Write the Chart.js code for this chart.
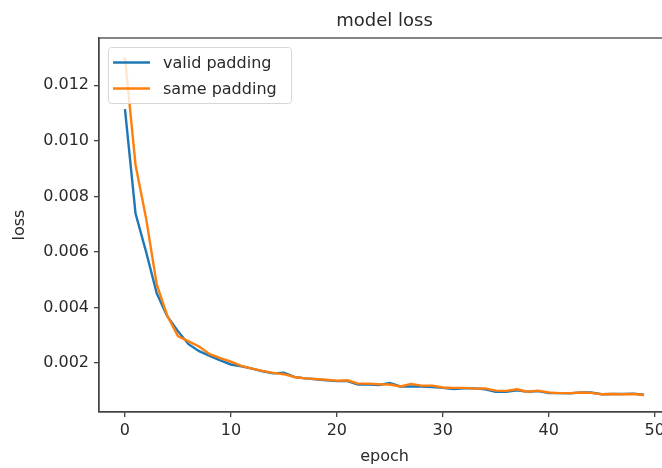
<!DOCTYPE html>
<html>
<head>
<meta charset="utf-8">
<script src="https://cdn.jsdelivr.net/npm/chart.js@4"></script>
<style>
  html, body { margin: 0; padding: 0; background: #fff; overflow: hidden; width: 662px; height: 468px; }
  canvas { display: block; }
</style>
</head>
<body>
<canvas id="loss-chart" width="680" height="468"></canvas>
<script>
var epochs = [];
for (var i = 0; i < 50; i++) { epochs.push(i); }

var validLoss = [0.01114, 0.00738, 0.00600, 0.00451, 0.00368, 0.00315, 0.00268, 0.00243, 0.00226, 0.00210,
                 0.00195, 0.00188, 0.00180, 0.00170, 0.00163, 0.00165, 0.00150, 0.00145, 0.00142, 0.00138,
                 0.00135, 0.00135, 0.00123, 0.00123, 0.00121, 0.00128, 0.00116, 0.00116, 0.00116, 0.00114,
                 0.00111, 0.00107, 0.00109, 0.00109, 0.00106, 0.00097, 0.00097, 0.00102, 0.00097, 0.00099,
                 0.00092, 0.00092, 0.00091, 0.00094, 0.00094, 0.00088, 0.00089, 0.00089, 0.00090, 0.00086];

var sameLoss = [0.01300, 0.00913, 0.00720, 0.00483, 0.00370, 0.00297, 0.00278, 0.00260, 0.00232, 0.00218,
                0.00205, 0.00190, 0.00180, 0.00172, 0.00165, 0.00160, 0.00150, 0.00145, 0.00143, 0.00140,
                0.00137, 0.00138, 0.00126, 0.00126, 0.00124, 0.00123, 0.00116, 0.00125, 0.00119, 0.00119,
                0.00112, 0.00111, 0.00111, 0.00108, 0.00109, 0.00101, 0.00100, 0.00106, 0.00097, 0.00101,
                0.00094, 0.00092, 0.00092, 0.00094, 0.00093, 0.00088, 0.00089, 0.00088, 0.00089, 0.00085];

var xTicks = [0, 10, 20, 30, 40, 50];
var yTicks = [0.002, 0.004, 0.006, 0.008, 0.010, 0.012];

var FONT = 'DejaVu Sans';
var TEXT = '#2a2a2a';
var AXIS = '#444444';

function points(ys) {
  return epochs.map(function(x, i) { return { x: x, y: ys[i] }; });
}

// frame, title, axis labels and legend drawn matplotlib style
var decorations = {
  id: 'decorations',
  afterDatasetsDraw: function(chart) {
    var ctx = chart.ctx;
    var a = chart.chartArea;
    ctx.save();
    ctx.strokeStyle = AXIS;
    ctx.lineWidth = 1.3;
    ctx.strokeRect(a.left, a.top, a.right - a.left, a.bottom - a.top);

    // legend
    ctx.fillStyle = 'rgba(255,255,255,0.8)';
    ctx.strokeStyle = '#d6d6d6';
    ctx.lineWidth = 1;
    ctx.beginPath();
    ctx.roundRect(108.5, 47.5, 183, 56, 3);
    ctx.fill();
    ctx.stroke();
    var items = [['valid padding', '#1f77b4', 62.5], ['same padding', '#ff7f0e', 88.5]];
    ctx.font = '16px "' + FONT + '"';
    ctx.textBaseline = 'middle';
    ctx.textAlign = 'left';
    items.forEach(function(it) {
      ctx.strokeStyle = it[1];
      ctx.lineWidth = 2.4;
      ctx.beginPath();
      ctx.moveTo(113, it[2]);
      ctx.lineTo(150, it[2]);
      ctx.stroke();
      ctx.fillStyle = TEXT;
      ctx.fillText(it[0], 163, it[2] + 1);
    });

    // titles
    ctx.fillStyle = TEXT;
    ctx.textAlign = 'center';
    ctx.font = '18px "' + FONT + '"';
    ctx.fillText('model loss', (a.left + a.right) / 2, 21);
    ctx.font = '16px "' + FONT + '"';
    ctx.fillText('epoch', (a.left + a.right) / 2, 457);
    ctx.translate(20, (a.top + a.bottom) / 2);
    ctx.rotate(-Math.PI / 2);
    ctx.fillText('loss', 0, 0);
    ctx.restore();
  }
};

var ctx = document.getElementById('loss-chart');
var chart = new Chart(ctx, {
  type: 'line',
  data: {
    datasets: [
      {
        label: 'valid padding',
        data: points(validLoss),
        borderColor: '#1f77b4',
        borderWidth: 2.4,
        pointRadius: 0,
        tension: 0,
        order: 1
      },
      {
        label: 'same padding',
        data: points(sameLoss),
        borderColor: '#ff7f0e',
        borderWidth: 2.4,
        pointRadius: 0,
        tension: 0,
        order: 0
      }
    ]
  },
  options: {
    responsive: false,
    animation: false,
    layout: { padding: { top: 38, left: 0, right: 10, bottom: 0 } },
    plugins: {
      legend: { display: false },
      tooltip: { enabled: false }
    },
    scales: {
      x: {
        type: 'linear',
        min: -2.45,
        max: 51.45,
        afterBuildTicks: function(scale) {
          scale.ticks = xTicks.map(function(v) { return { value: v }; });
        },
        afterFit: function(scale) { scale.height = 56; },
        grid: { drawOnChartArea: false, color: AXIS, tickLength: 5, lineWidth: 1.3 },
        border: { display: true, color: AXIS, width: 1.3 },
        ticks: {
          color: TEXT,
          font: { family: FONT, size: 16 },
          padding: 4,
          maxRotation: 0,
          callback: function(v) { return String(v); }
        }
      },
      y: {
        type: 'linear',
        min: 0.00024,
        max: 0.0137,
        afterBuildTicks: function(scale) {
          scale.ticks = yTicks.map(function(v) { return { value: v }; });
        },
        afterFit: function(scale) { scale.width = 99; },
        grid: { drawOnChartArea: false, color: AXIS, tickLength: 5, lineWidth: 1.3 },
        border: { display: true, color: AXIS, width: 1.3 },
        ticks: {
          color: TEXT,
          font: { family: FONT, size: 16 },
          padding: 5,
          callback: function(v) { return v.toFixed(3); }
        }
      }
    }
  },
  plugins: [decorations]
});
</script>
</body>
</html>
